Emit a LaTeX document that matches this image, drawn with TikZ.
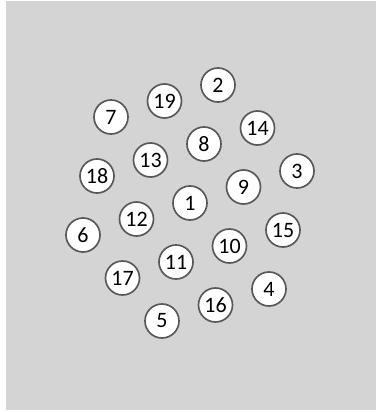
\documentclass[tikz,border=0pt]{standalone}
\usepackage{fontspec}
\setmainfont{Carlito}
\usepackage{tikz}
\usetikzlibrary{positioning}

\definecolor{panel}{RGB}{212,212,212}
\definecolor{rim}{RGB}{88,88,88}

\begin{document}
\begin{tikzpicture}[
    x=0.75pt, y=-0.75pt,
    ball/.style={circle, draw=rim, line width=1.25pt, fill=white, minimum size=25.5pt, inner sep=0pt, font=\fontsize{16.5}{19}\selectfont}
]

% page and grey panel
\useasboundingbox (0,0) rectangle (376,412);
\fill[panel] (6,1) rectangle (376,410);

% numbered discs on a hexagonal lattice, 1 in the middle
\foreach \n/\i/\j in {1/0/0, 8/1/-1, 9/1/0, 10/0/1, 11/-1/1, 12/-1/0, 13/0/-1,
    2/2/-2, 14/2/-1, 3/2/0, 15/1/1, 4/0/2, 16/-1/2, 5/-2/2, 17/-2/1, 6/-2/0, 18/-1/-1, 7/0/-2, 19/1/-2}
    \node[ball] (p\n) at ({190+53.5*\i+39.5*\j},{203-16*\i+43*\j}) {\n};

\end{tikzpicture}
\end{document}
